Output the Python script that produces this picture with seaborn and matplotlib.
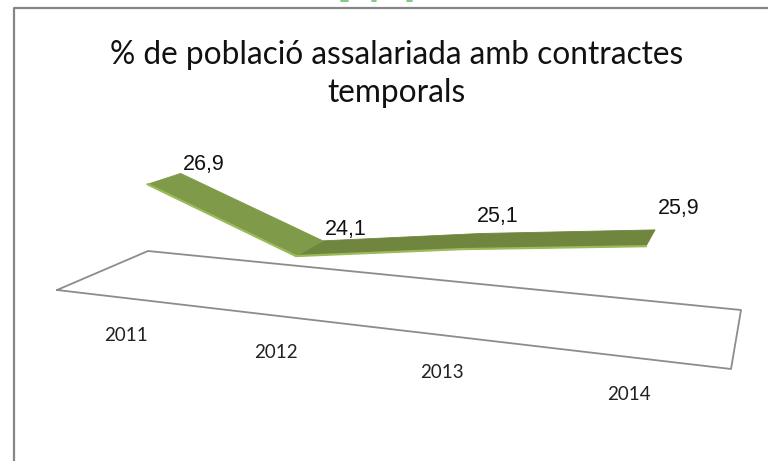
import numpy as np
import pandas as pd
import matplotlib
matplotlib.use('Agg')
import matplotlib.pyplot as plt
import seaborn as sns

years = ['2011', '2012', '2013', '2014']
values = [26.9, 24.1, 25.1, 25.9]
value_labels = ['26,9', '24,1', '25,1', '25,9']
title = '% de població assalariada amb contractes\ntemporals'

sns.set_theme(style='white')

# floor corners in pixels, (category pos, depth) -> screen, solved as a homography
src = [(0, 0), (4, 0), (4, 1), (0, 1)]
dst = [(57, 290), (731, 369), (741, 310), (148, 251)]
A, b = [], []
for (u, d), (x, y) in zip(src, dst):
    A.append([u, d, 1, 0, 0, 0, -u * x, -d * x])
    A.append([0, 0, 0, u, d, 1, -u * y, -d * y])
    b += [x, y]
H = np.append(np.linalg.solve(np.array(A, float), np.array(b, float)), 1).reshape(3, 3)


def project(u, d, v=None):
    x, y, w = H @ np.array([u, d, 1.0])
    lift = 0 if v is None else 20.3 * (v - 21.57) / w
    return x / w, y / w - lift


fig = plt.figure(figsize=(7.68, 4.61), dpi=100)
ax = fig.add_axes([0, 0, 1, 1])
ax.set_xlim(0, 768)
ax.set_ylim(461, 0)
ax.axis('off')

# outer chart border
ax.plot([13.5, 13.5, 768], [461, 8, 8], color='#868686', lw=1.6)

# bits of cut off green text at the top edge
for x0, x1 in [(341, 348), (372, 376), (407, 412)]:
    ax.plot([x0, x1], [0.6, 0.6], color='#6cc070', lw=1.2)

# floor
floor = pd.DataFrame([project(u, d) for u, d in src + src[:1]], columns=['x', 'y'])
sns.lineplot(data=floor, x='x', y='y', sort=False, estimator=None, color='#8c8c8c', lw=1.3, ax=ax)

# ribbon
d_front, d_back = 0.12, 0.5
pos = np.arange(len(values)) + 0.57
back = np.array([project(u, d_back, v) for u, v in zip(pos, values)])
front = np.array([project(u, d_front, v) for u, v in zip(pos, values)])
shades = ['#7f9a48', '#70863f', '#70863f']
for i in [2, 1, 0]:
    poly = np.vstack([back[i], back[i + 1], front[i + 1], front[i]])
    ax.fill(poly[:, 0], poly[:, 1], color=shades[i], lw=0.6, zorder=3)
edge = pd.DataFrame(front, columns=['x', 'y'])
sns.lineplot(data=edge, x='x', y='y', sort=False, estimator=None, color='#9bbb59', lw=1.6, ax=ax, zorder=4)

# labels
label_up = [9, 11, 17, 21]
label_right = [23, 23, 17, 24]
for (x, y), lab, up, right in zip(back, value_labels, label_up, label_right):
    ax.text(x + right, y - up, lab, ha='center', va='center', fontsize=15.5,
            family='Liberation Sans', color='#111111', zorder=5)
for u, lab in zip(np.arange(len(years)) + 0.5, years):
    x, y = project(u, 0)
    ax.text(x, y + 37, lab, ha='center', va='center', fontsize=13.5, family='Lato', color='#222222')

ax.text(397, 74, title, ha='center', va='center', fontsize=22.8, family='Lato',
        color='#111111', linespacing=1.3)

ax.set_xlabel('')
ax.set_ylabel('')
fig.savefig('out.png', dpi=100)
